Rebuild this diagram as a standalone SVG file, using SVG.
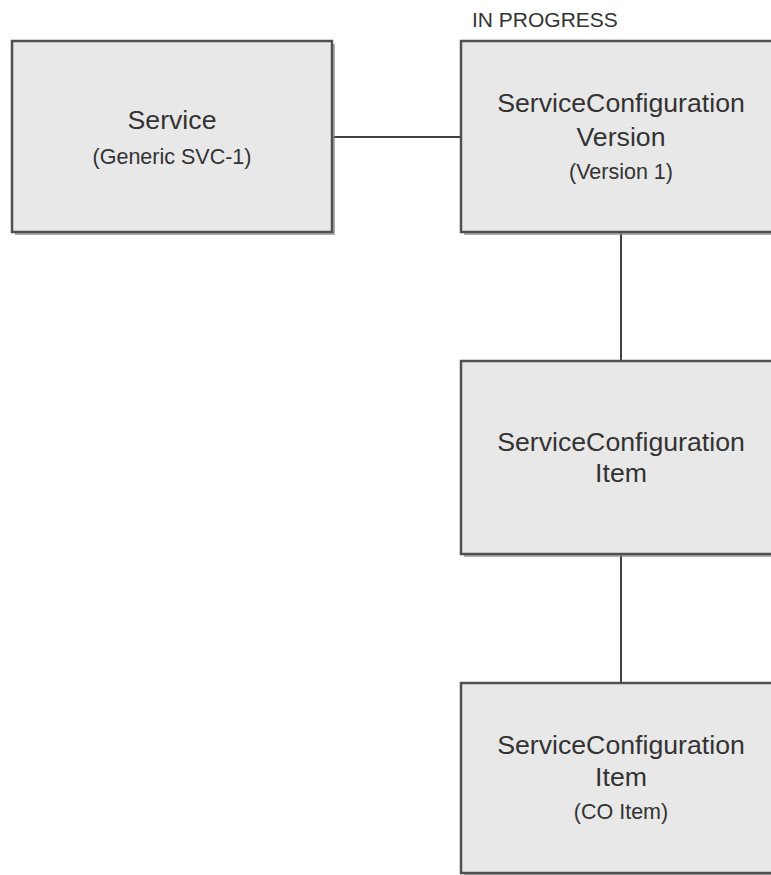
<svg xmlns="http://www.w3.org/2000/svg" width="771" height="875" viewBox="0 0 771 875">
<style>
.shadow{fill:#8c8c8c;opacity:0.7}
.box{fill:#e8e8e8;stroke:#505050;stroke-width:2.5}
.conn{stroke:#404040;stroke-width:2;fill:none}
text{font-family:"Liberation Sans",Arial,sans-serif;fill:#333;text-anchor:middle}
.t{font-size:26.7px}
.s{font-size:21.5px}
.lbl{font-size:21px;text-anchor:start}
</style>
<g id="connectors">
<line class="conn" x1="332" y1="137" x2="461" y2="137"/>
<line class="conn" x1="621" y1="232" x2="621" y2="361"/>
<line class="conn" x1="621" y1="554" x2="621" y2="683"/>
</g>
<g id="service">
<rect class="shadow" x="15" y="44" width="320" height="191"/>
<rect class="box" x="12" y="41" width="320" height="191"/>
<text class="t" x="172" y="129">Service</text>
<text class="s" x="172" y="164">(Generic SVC-1)</text>
</g>
<g id="scv">
<text class="lbl" x="472" y="27">IN PROGRESS</text>
<rect class="shadow" x="464" y="44" width="320" height="191"/>
<rect class="box" x="461" y="41" width="320" height="191"/>
<text class="t" x="621" y="112">ServiceConfiguration</text>
<text class="t" x="621" y="146">Version</text>
<text class="s" x="621" y="179">(Version 1)</text>
</g>
<g id="sci">
<rect class="shadow" x="464" y="364" width="320" height="193"/>
<rect class="box" x="461" y="361" width="320" height="193"/>
<text class="t" x="621" y="451">ServiceConfiguration</text>
<text class="t" x="621" y="482">Item</text>
</g>
<g id="sci-co">
<rect class="shadow" x="464" y="686" width="320" height="190"/>
<rect class="box" x="461" y="683" width="320" height="190"/>
<text class="t" x="621" y="754">ServiceConfiguration</text>
<text class="t" x="621" y="786">Item</text>
<text class="s" x="621" y="819">(CO Item)</text>
</g>
</svg>
